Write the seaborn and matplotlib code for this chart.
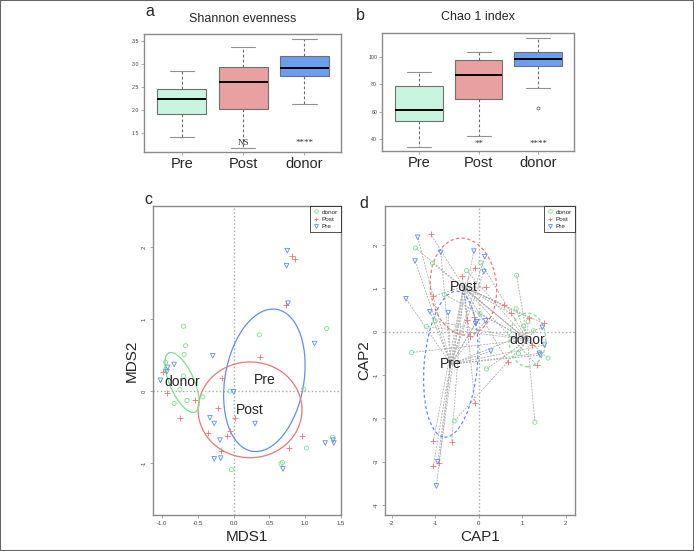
import numpy as np
import pandas as pd
import seaborn as sns
import matplotlib.pyplot as plt
from matplotlib.patches import Ellipse, Rectangle
from matplotlib.lines import Line2D

groups = ['Pre', 'Post', 'donor']
box_colors = ['#c8f5df', '#e8a0a0', '#6c9ef0']
pt_colors = {'donor': '#7ee08e', 'Post': '#f07474', 'Pre': '#5f8ff0'}

shannon_pre = [1.41, 1.91, 2.24, 2.45, 2.85]
shannon_post = [1.17, 2.03, 2.60, 2.93, 3.37]
shannon_donor = [2.13, 2.74, 2.91, 3.18, 3.54]
shannon_marks = ['', 'NS', '****']

chao_pre = [34.1, 53.2, 61.0, 78.6, 88.8]
chao_post = [42.2, 69.0, 87.1, 97.6, 103.7]
chao_donor = [62.5, 77.5, 93.2, 95.0, 98.5, 101.0, 103.9, 113.7, 113.7]
chao_marks = ['', '**', '****']

# panel c: NMDS scores
mds_pre_x = [0.75, 0.74, 0.76, 1.13, -0.29, -0.92, -0.83, -0.93, -1.02, 0.00,
             -0.33, -0.27, 0.30, -0.19, -0.27, -0.18, 1.28, 0.69, 1.39, 1.40]
mds_pre_y = [1.95, 1.74, 1.22, 0.66, 0.49, 0.33, 0.37, 0.27, 0.15, -0.01,
             -0.37, -0.45, -0.45, -0.68, -0.94, -0.93, -0.72, -1.08, -0.68, -0.72]
mds_post_x = [0.82, 0.86, 0.73, 0.37, -0.99, -0.16, -0.93, -0.54, -0.22, -0.75,
              0.02, -0.36, -0.05, -0.09, -0.18, 0.96, 0.77]
mds_post_y = [1.87, 1.83, 1.20, 0.47, 0.26, 0.18, -0.03, -0.13, -0.24, -0.37,
              -0.38, -0.58, -0.55, -0.63, -0.83, -0.63, -0.79]
mds_donor_x = [-0.70, 0.36, 1.30, -0.67, -0.69, -0.95, -0.95, -0.70, -0.75, -0.05,
               -0.43, -0.65, -0.83, 0.98, 1.02, 0.68, 0.66, -0.03, 1.38]
mds_donor_y = [0.90, 0.78, 0.87, 0.63, 0.51, 0.40, 0.30, 0.21, 0.02, 0.00,
               -0.08, -0.13, -0.17, 0.03, -0.79, -0.99, -1.01, -1.09, -0.64]
# ellipse: centre x, centre y, width, height, angle
mds_ell = {'Pre': [0.43, 0.15, 2.0, 1.1, 80],
           'Post': [0.23, -0.26, 1.45, 1.33, 0],
           'donor': [-0.72, 0.12, 0.9, 0.34, 114]}

# panel d: CAP scores
cap_pre_x = [-1.40, -0.87, -0.11, 0.14, -1.46, 0.12, -1.67, -1.12, -0.70, -0.05,
             -0.07, 0.16, 1.46, 1.51, 0.28, 1.39, 1.41, -0.94, -0.97]
cap_pre_y = [2.18, 1.83, 1.86, 1.73, 1.63, 1.39, 0.76, 0.46, 0.44, 0.23,
             0.19, 0.25, 0.10, -0.31, -0.45, -0.50, -0.54, -3.00, -3.56]
cap_post_x = [-1.10, -0.08, -0.38, 0.17, -1.04, 0.59, 0.74, -0.26, -0.10, 1.15,
              1.49, -0.20, 1.23, 0.68, 1.33, -0.09, -1.04, -0.62, -0.91, -1.04]
cap_post_y = [2.25, 1.48, 1.29, 1.02, 0.82, 0.61, 0.42, 0.27, 0.35, 0.32,
              0.19, -0.10, -0.31, -0.71, -0.77, -1.64, -2.52, -2.54, -3.02, -3.10]
cap_donor_x = [-1.45, -1.06, 0.05, -0.28, 0.87, -0.79, 0.86, 0.03, -1.00, 1.13,
               1.03, -1.20, 1.26, 0.91, -1.54, 1.59, 0.18, -0.56, 1.29]
cap_donor_y = [1.93, 1.58, 1.59, 1.41, 1.30, 0.86, 0.53, 0.42, 0.25, 0.23,
               0.13, 0.12, 0.02, -0.50, -0.48, -0.61, -0.86, -2.06, -2.09]
cap_ell = {'Pre': [-0.64, -0.75, 1.22, 3.38, -5],
           'Post': [-0.35, 1.04, 1.52, 2.24, 5],
           'donor': [1.12, -0.19, 0.84, 1.24, 0]}

sns.set_style('white')
plt.rcParams['font.family'] = ['Liberation Sans', 'DejaVu Sans']
plt.rcParams['axes.unicode_minus'] = False

W, H = 694, 551
fig = plt.figure(figsize=(W / 100, H / 100), dpi=100)


def px_axes(l, t, r, b):
    return fig.add_axes([l / W, 1 - b / H, (r - l) / W, (b - t) / H])


def frame(ax):
    for s in ax.spines.values():
        s.set_color('#8a8a8a')
        s.set_linewidth(1.0)


def box_panel(ax, vals, marks, ylim, yticks, title, ypos):
    df = pd.DataFrame({'group': [g for g, v in zip(groups, vals) for _ in v],
                       'value': [x for v in vals for x in v]})
    sns.boxplot(data=df, x='group', y='value', hue='group', order=groups,
                palette=box_colors, saturation=1, width=0.8, legend=False,
                linecolor='#707070', linewidth=0.8,
                whiskerprops=dict(linestyle=(0, (2.5, 2)), color='#6a6a6a'),
                capprops=dict(color='#909090'),
                medianprops=dict(color='black', linewidth=1.4),
                flierprops=dict(marker='o', markersize=2.2, markerfacecolor='none',
                                markeredgecolor='#555555', markeredgewidth=0.5),
                ax=ax)
    for i, m in enumerate(marks):
        ax.text(i, ypos, m, ha='center', va='center', fontsize=6.5,
                family='Liberation Serif', color='#333333')
    ax.set_xlim(-0.62, 2.6)
    ax.set_ylim(*ylim)
    ax.set_yticks(yticks)
    ax.set_xlabel('')
    ax.set_ylabel('')
    ax.set_title(title, fontsize=9, pad=9)
    ax.tick_params(axis='y', labelsize=3.8, length=2, width=0.5, color='#888888',
                   labelcolor='#444444', pad=1.5, left=True)
    ax.tick_params(axis='x', labelsize=10.5, length=2, width=0.5, color='#888888',
                   pad=1.5, bottom=True)
    frame(ax)


ax_a = px_axes(144, 34, 341, 152)
box_panel(ax_a, [shannon_pre, shannon_post, shannon_donor], shannon_marks,
          (1.09, 3.65), [1.5, 2.0, 2.5, 3.0, 3.5], 'Shannon evenness', 1.29)

ax_b = px_axes(382, 33, 574, 151)
box_panel(ax_b, [chao_pre, chao_post, chao_donor], chao_marks,
          (31.2, 117.6), [40, 60, 80, 100], 'Chao 1 index', 36.3)


def scatter_groups(ax, pts):
    for g, (xs, ys) in pts.items():
        c = pt_colors[g]
        if g == 'Post':
            sns.scatterplot(x=xs, y=ys, marker='+', s=14, color=c, linewidth=0.6,
                            ax=ax, zorder=3)
        else:
            sns.scatterplot(x=xs, y=ys, marker='o' if g == 'donor' else 'v',
                            s=9 if g == 'donor' else 11, facecolor='none',
                            edgecolor=c, linewidth=0.6, ax=ax, zorder=3)


def legend(ax):
    hs = [Line2D([], [], ls='', marker='o', ms=2.6, mfc='none', mec=pt_colors['donor'],
                 mew=0.6, label='donor'),
          Line2D([], [], ls='', marker='+', ms=3.2, color=pt_colors['Post'],
                 mew=0.6, label='Post'),
          Line2D([], [], ls='', marker='v', ms=2.8, mfc='none', mec=pt_colors['Pre'],
                 mew=0.6, label='Pre')]
    leg = ax.legend(handles=hs, loc='upper right', fontsize=4.6, frameon=True,
                    fancybox=False, edgecolor='black', borderaxespad=0,
                    handlelength=0.8, handletextpad=0.5, borderpad=0.5,
                    labelspacing=0.25)
    leg.get_frame().set_linewidth(0.6)


def ord_panel(ax, pts, ell, dashed, spider, xlim, ylim, xticks, yticks, xl, yl):
    ax.axvline(0, color='#aaaaaa', ls=':', lw=1.0, zorder=0)
    ax.axhline(0, color='#aaaaaa', ls=':', lw=1.0, zorder=0)
    if spider:
        for g, (xs, ys) in pts.items():
            cx, cy = ell[g][0], ell[g][1]
            for x, y in zip(xs, ys):
                ax.plot([cx, x], [cy, y], color='#a8a8a8', lw=0.55,
                        ls=(0, (2.5, 1.5)), zorder=1)
    for g, (cx, cy, w, h, a) in ell.items():
        ax.add_patch(Ellipse((cx, cy), w, h, angle=a, fill=False,
                             ec=pt_colors[g], lw=0.9,
                             ls=(0, (2.5, 2)) if dashed else '-', zorder=2))
        ax.text(cx, cy, g, ha='center', va='center', fontsize=10, zorder=4)
    scatter_groups(ax, pts)
    ax.set_xlim(*xlim)
    ax.set_ylim(*ylim)
    ax.set_xticks(xticks)
    ax.set_yticks(yticks)
    ax.set_xlabel(xl, fontsize=11, labelpad=3)
    ax.set_ylabel(yl, fontsize=11, labelpad=2)
    ax.tick_params(labelsize=4.3, length=2.5, width=0.5, color='#888888',
                   labelcolor='#444444', pad=2, left=True, bottom=True)
    for t in ax.get_yticklabels():
        t.set_rotation(90)
        t.set_va('center')
    frame(ax)
    legend(ax)


ax_c = px_axes(153, 206, 341, 515)
ord_panel(ax_c, {'donor': (mds_donor_x, mds_donor_y), 'Post': (mds_post_x, mds_post_y),
                 'Pre': (mds_pre_x, mds_pre_y)}, mds_ell, False, False,
          (-1.125, 1.486), (-1.72, 2.57), [-1.0, -0.5, 0.0, 0.5, 1.0, 1.5],
          [-1, 0, 1, 2], 'MDS1', 'MDS2')

ax_d = px_axes(385, 206, 575, 515)
ord_panel(ax_d, {'donor': (cap_donor_x, cap_donor_y), 'Post': (cap_post_x, cap_post_y),
                 'Pre': (cap_pre_x, cap_pre_y)}, cap_ell, True, True,
          (-2.15, 2.21), (-4.23, 2.90), [-2, -1, 0, 1, 2],
          [-4, -3, -2, -1, 0, 1, 2], 'CAP1', 'CAP2')

for lab, x, y in [('a', 150, 12), ('b', 360, 15), ('c', 148, 200), ('d', 364, 203)]:
    fig.text(x / W, 1 - y / H, lab, fontsize=11.5, ha='center', va='center')

fig.add_artist(Rectangle((0, 0), 1, 1, transform=fig.transFigure, fill=False,
                         ec='#666666', lw=1.5))

fig.savefig('out.png', dpi=100)
